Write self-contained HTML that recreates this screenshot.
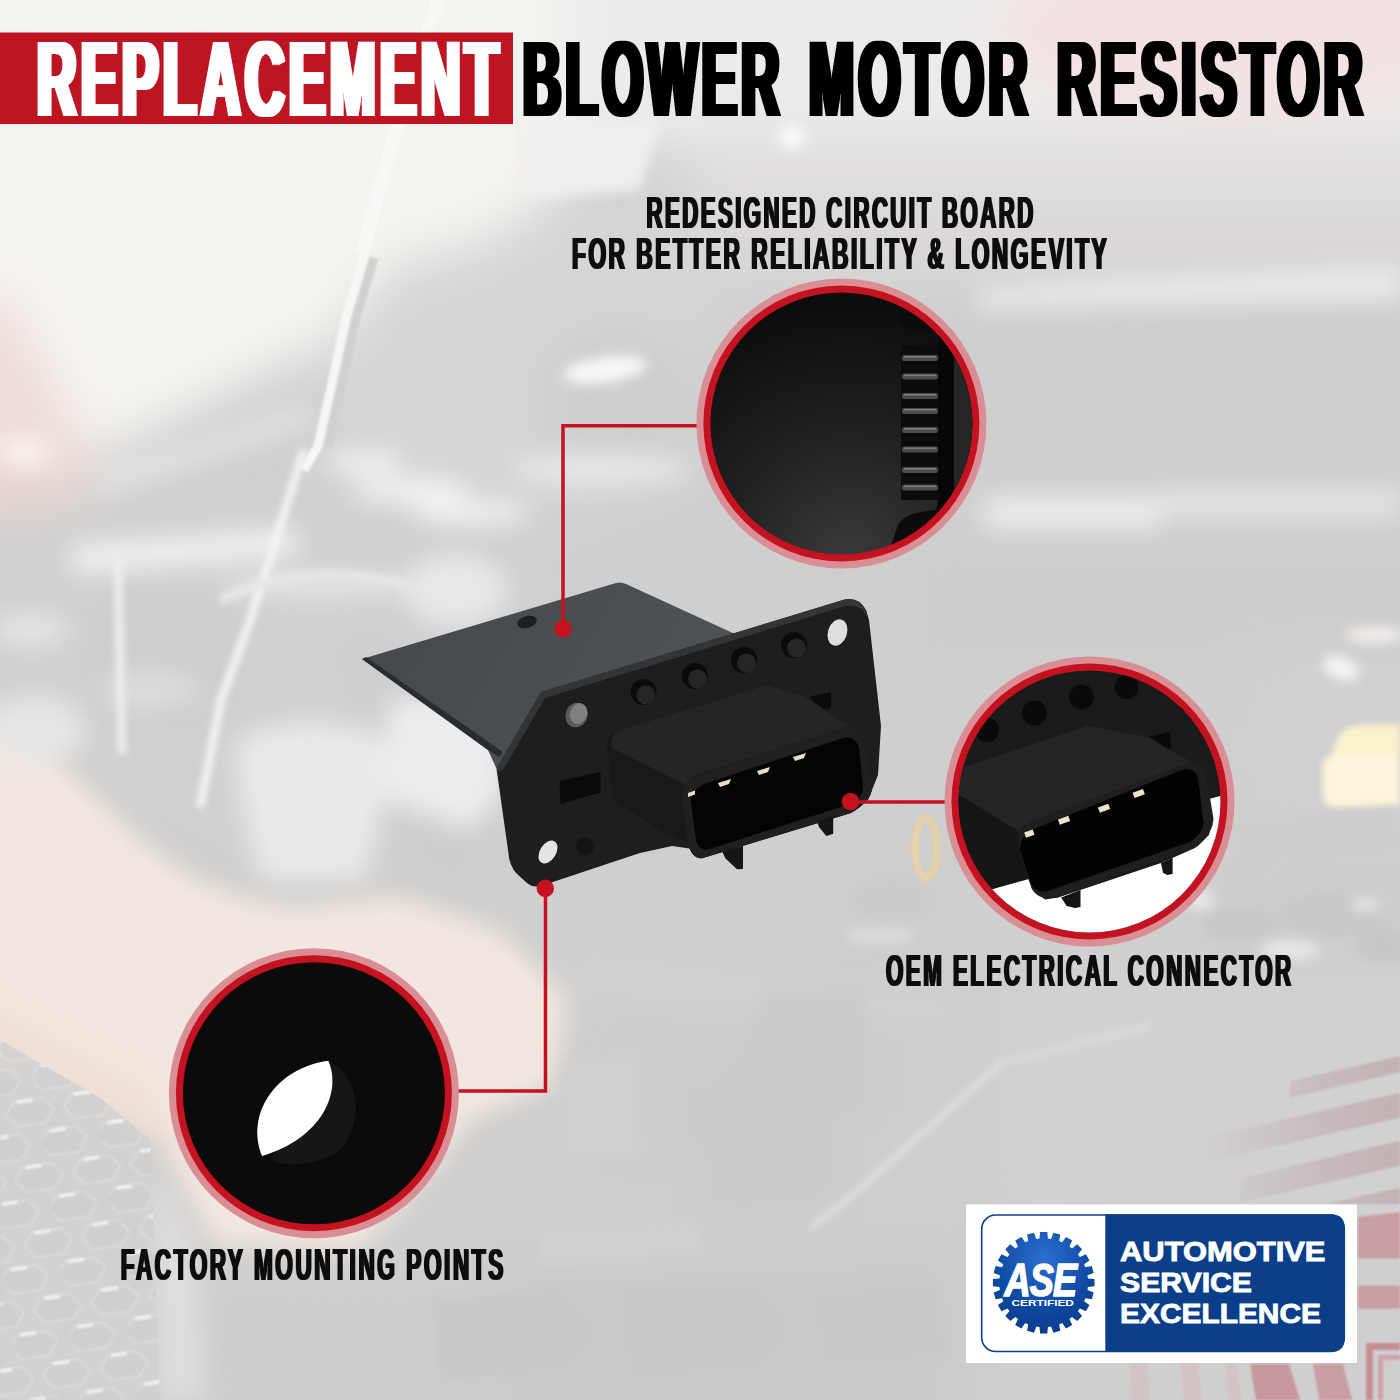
<!DOCTYPE html>
<html lang="en"><head><meta charset="utf-8"><title>Replacement Blower Motor Resistor</title>
<style>
html,body{margin:0;padding:0;background:#dcdcdc;}
body{width:1400px;height:1400px;overflow:hidden;font-family:"Liberation Sans",sans-serif;}
svg text{font-family:"Liberation Sans",sans-serif;font-weight:bold;}
</style></head><body>
<svg width="1400" height="1400" viewBox="0 0 1400 1400" style="display:block">
<defs>
  <filter id="b60" x="-50%" y="-50%" width="200%" height="200%"><feGaussianBlur stdDeviation="60"/></filter>
  <filter id="b40" x="-50%" y="-50%" width="200%" height="200%"><feGaussianBlur stdDeviation="40"/></filter>
  <filter id="b25" x="-50%" y="-50%" width="200%" height="200%"><feGaussianBlur stdDeviation="25"/></filter>
  <filter id="b12" x="-50%" y="-50%" width="200%" height="200%"><feGaussianBlur stdDeviation="12"/></filter>
  <filter id="b6" x="-50%" y="-50%" width="200%" height="200%"><feGaussianBlur stdDeviation="6"/></filter>
  <filter id="b3" x="-50%" y="-50%" width="200%" height="200%"><feGaussianBlur stdDeviation="3"/></filter>
  <filter id="b1" x="-50%" y="-50%" width="200%" height="200%"><feGaussianBlur stdDeviation="1.2"/></filter>
  <clipPath id="c1"><circle cx="841.4" cy="423.5" r="131"/></clipPath>
  <clipPath id="c2"><circle cx="1089.5" cy="801.5" r="131"/></clipPath>
  <clipPath id="c3"><circle cx="313.9" cy="1093.2" r="131"/></clipPath>
  <linearGradient id="g1" x1="0" y1="0" x2="0.6" y2="1">
    <stop offset="0" stop-color="#0c0c0c"/><stop offset="0.55" stop-color="#1d1d1d"/><stop offset="1" stop-color="#3a3a3a"/>
  </linearGradient>
  <linearGradient id="plate" x1="0" y1="0" x2="1" y2="0.3">
    <stop offset="0" stop-color="#45474a"/><stop offset="1" stop-color="#505356"/>
  </linearGradient>
  <radialGradient id="gear" cx="0.5" cy="0.25" r="0.8">
    <stop offset="0" stop-color="#2a6fd0"/><stop offset="0.6" stop-color="#0f4aa3"/><stop offset="1" stop-color="#0a3a86"/>
  </radialGradient>
  <filter id="fatT" x="-2%" y="-20%" width="104%" height="140%"><feMorphology operator="dilate" radius="3.3 0"/></filter>
  <filter id="fatS" x="-2%" y="-20%" width="104%" height="140%"><feMorphology operator="dilate" radius="1.3 0"/></filter>
  <radialGradient id="g1r" gradientUnits="userSpaceOnUse" cx="850" cy="560" r="270">
    <stop offset="0" stop-color="#3a3a3a"/><stop offset="0.45" stop-color="#222222"/><stop offset="1" stop-color="#0b0b0b"/>
  </radialGradient>
  <pattern id="hex" width="58" height="66" patternUnits="userSpaceOnUse" patternTransform="rotate(-8)">
    <rect width="58" height="66" fill="#d2d2d2"/>
    <path d="M6,4 L34,4 L44,16 L34,29 L6,29 L-4,16 Z" fill="#cfcfcf" stroke="#dcdcdc" stroke-width="2"/>
    <path d="M35,37 L63,37 L73,49 L63,62 L35,62 L25,49 Z" fill="#cfcfcf" stroke="#dcdcdc" stroke-width="2"/>
    <path d="M-23,37 L5,37 L15,49 L5,62 L-23,62 L-33,49 Z" fill="#cfcfcf" stroke="#dcdcdc" stroke-width="2"/>
    <rect x="8" y="3" width="16" height="3.5" fill="#f8f8f8"/>
    <rect x="37" y="36" width="16" height="3.5" fill="#f8f8f8"/>
  </pattern>
  <clipPath id="grilleclip"><path d="M0,1040 L100,1098 L150,1140 L160,1400 L0,1400 Z"/></clipPath>
  <linearGradient id="stripefade" gradientUnits="userSpaceOnUse" x1="1200" y1="0" x2="1400" y2="0">
    <stop offset="0" stop-color="#c4b6b8" stop-opacity="0"/><stop offset="0.6" stop-color="#c4b6b8" stop-opacity="0.8"/><stop offset="1" stop-color="#c2b2b5" stop-opacity="1"/>
  </linearGradient>
</defs>

<g id="bg">
  <rect width="1400" height="1400" fill="#cfcfcf"/>
  <!-- ===== broad tonal regions ===== -->
  <g filter="url(#b25)">
    <!-- hood (light) -->
    <path d="M-80,-80 L620,-80 L600,150 L525,218 L462,250 L400,262 L325,347 L87,462 L-80,520 Z" fill="#f4f3f0"/>
    <rect x="560" y="-80" width="920" height="230" fill="#ecebea"/>
    <ellipse cx="1230" cy="30" rx="230" ry="80" fill="#f3e1e1"/>
    <!-- under-hood grey -->
    <path d="M325,350 L400,265 L462,252 L525,222 L600,200 L700,168 L730,190 L700,470 L560,520 L320,480 Z" fill="#d6d5d5"/>
    <ellipse cx="620" cy="400" rx="80" ry="70" fill="#cfcdcd"/>
    <!-- right wall bands -->
    <rect x="700" y="130" width="780" height="80" fill="#e2e0df"/><rect x="700" y="200" width="780" height="85" fill="#dad8d7"/>
    <rect x="960" y="310" width="520" height="160" fill="#cfcece"/>
    <rect x="900" y="540" width="580" height="130" fill="#cdcdcd"/>
    <!-- mid left engine bay -->
    <path d="M-80,520 L92,462 L320,470 L560,500 L560,700 L480,900 L300,890 L-80,700 Z" fill="#d0d0d0"/>
    
    <path d="M90,590 L230,590 L230,720 L90,720 Z" fill="#cecece"/>
    <path d="M330,640 L380,640 L480,760 L500,900 L400,890 L380,720 Z" fill="#cdcdcd"/>
    <!-- grille -->
    <path d="M-80,1060 L100,1110 L150,1170 L150,1480 L-80,1480 Z" fill="#cccccc"/>
    <path d="M200,1270 L420,1280 L520,1480 L200,1480 Z" fill="#cdcdcd"/>
    <!-- bottom center -->
    <path d="M470,1140 L583,945 L900,960 L1010,1000 L1010,1200 L960,1480 L500,1480 L420,1290 Z" fill="#cecece"/>
    <path d="M760,985 L870,980 L872,1110 L832,1122 L832,1208 L705,1212 L700,1080 L735,1058 Z" fill="#cbcbcb"/>
    <path d="M500,1270 L960,1250 L960,1480 L500,1480 Z" fill="#cbcbcb"/>
    <path d="M600,1040 L700,1040 L700,1160 L600,1160 Z" fill="#cccccc"/>
    <!-- right lower -->
    <rect x="1000" y="980" width="480" height="240" fill="#d1d1d1"/>
    <rect x="1240" y="650" width="240" height="180" fill="#d0d0d0"/>
    <rect x="1200" y="830" width="280" height="130" fill="#cdcdcd"/>
    <rect x="840" y="830" width="115" height="130" fill="#cecece"/>
    <!-- left skin upper -->
    <path d="M-40,290 L9,298 L89,451 L85,500 L-40,512 Z" fill="#eddcd8"/>
    <ellipse cx="10" cy="480" rx="40" ry="24" fill="#e9d2cb"/>
  </g>
  <!-- ===== medium detail ===== -->
  <g filter="url(#b12)">
    <!-- arm -->
    <path d="M-40,690 L54,760 L107,807 L150,848 L200,882 L260,903 L300,908 L400,897 L500,932 L568,1000 L552,1085 L470,1120 L440,1160 L360,1250 L215,1245 L160,1140 L-40,1040 Z" fill="#f2e7e0"/>
    <path d="M-40,985 L150,1085 L185,1155 L120,1125 L-40,1045 Z" fill="#efe0d7"/>
    <!-- bumper light strip right of grille -->
    <path d="M150,1160 L195,1250 L205,1400 L160,1400 Z" fill="#dedede"/>
    <!-- right wall light bands -->
    <path d="M980,292 L1120,282 L1400,270 L1400,296 L1120,302 L980,308 Z" fill="#efefef"/>
    <rect x="985" y="498" width="175" height="30" fill="#ededed"/>
    <rect x="1160" y="490" width="240" height="26" fill="#e4e4e4"/>
    <!-- reservoir -->
    <path d="M236,740 Q310,705 388,740 L384,790 Q372,870 360,880 L262,880 Q250,850 240,790 Z" fill="#e9e9e9"/>
    <path d="M388,700 L500,690 L505,790 L470,830 L384,800 Z" fill="#ececec"/>
    <!-- white highlights, engine bay -->
    <ellipse cx="364" cy="462" rx="40" ry="10" fill="#f4f4f4"/>
    <ellipse cx="410" cy="490" rx="60" ry="13" fill="#f2f2f2"/>
    <ellipse cx="470" cy="512" rx="60" ry="14" fill="#eeeeee"/>
    <ellipse cx="600" cy="470" rx="90" ry="14" fill="#e9e9e9"/>
    <path d="M71,545 L296,528 L298,556 L73,574 Z" fill="#f0f0f0"/>
    <ellipse cx="316" cy="586" rx="95" ry="10" fill="#e8e8e8"/>
    <ellipse cx="455" cy="590" rx="52" ry="36" fill="#e8e8e8"/>
    <ellipse cx="30" cy="630" rx="40" ry="16" fill="#e4e4e4"/>
    <ellipse cx="35" cy="730" rx="50" ry="34" fill="#e6e6e6"/>
    <ellipse cx="24" cy="452" rx="26" ry="16" fill="#faf3ee"/>
    <ellipse cx="150" cy="690" rx="50" ry="16" fill="#dedede"/>
    <!-- fender light band -->
    <path d="M92,474 L304,404 L312,424 L100,496 Z" fill="#e2e2e2"/>
    <!-- engine cover ridge -->
    <path d="M583,945 L879,983 L975,1003 L960,1030 L700,1010 L560,1000 Z" fill="#d0d0d0"/>
    <!-- yellow cap -->
    </g>
  <!-- ===== finer detail ===== -->
  <g filter="url(#b3)">
    <path d="M1336,742 Q1342,726 1362,725 L1400,725 L1400,760 L1330,760 Z" fill="#faf2cd"/>
    <path d="M1323,764 Q1324,756 1336,756 L1400,754 L1400,806 L1340,808 Q1324,808 1323,796 Z" fill="#fcf5dc"/>
    <!-- engine cover thin ridge -->
    <path d="M1000,1064 L846,1201 L811,1227" fill="none" stroke="#e2e2e2" stroke-width="5"/>
    <path d="M1000,1064 L1150,1026" fill="none" stroke="#dcdcdc" stroke-width="5"/>
    <!-- rod lower part + tubes -->
    <path d="M304,450 L250,621 L221,700 L200,807" fill="none" stroke="#f4f4f4" stroke-width="8" stroke-linejoin="round"/>
    <path d="M118,557 L122,754" stroke="#ececec" stroke-width="9" fill="none"/>
    <path d="M221,600 Q300,560 411,585" stroke="#e6e6e6" stroke-width="10" fill="none"/>
  </g>
  <g filter="url(#b1)">
    <!-- hood prop rod -->
    <path d="M440,-5 L390,150 L362,255" fill="none" stroke="#f8f8f8" stroke-width="13" stroke-linejoin="round"/>
    <path d="M364,255 L346,318 L334,374 L318,446 L304,470" fill="none" stroke="#f6f6f6" stroke-width="9" stroke-linejoin="round"/>
    <path d="M374,258 L356,318 L344,374 L328,446" fill="none" stroke="#d0d0d0" stroke-width="9"/>
    <!-- orange o-ring -->
    <ellipse cx="926" cy="848" rx="11" ry="30" fill="none" stroke="#e6d2a8" stroke-width="7"/>
  </g>
  <g filter="url(#b1)">
    <!-- flag stripes (crisp) -->
    <g fill="url(#stripefade)">
      <path d="M1290,1081 L1400,1056 L1400,1072 L1290,1098 Z"/>
      <path d="M1194,1140 L1400,1092.6 L1400,1117.7 L1194,1165 Z"/>
      <path d="M1240,1178 L1400,1140.6 L1400,1165.7 L1240,1203 Z"/>
      <path d="M1330,1203 L1400,1187.4 L1400,1204 L1330,1204 Z"/>
    </g>
    <g fill="#c89da3">
      <path d="M1358,1217 L1400,1212 L1400,1258.5 L1358,1258.5 Z"/>
      <rect x="1358" y="1285.7" width="42" height="23"/>
      <path d="M1250,1364 L1289,1364 L1300,1400 L1256,1400 Z" fill="#c6979d"/>
      <path d="M1313,1364 L1343,1364 L1352,1400 L1319,1400 Z"/>
      <path d="M1366,1343 L1400,1343 L1400,1350 L1373,1350 L1373,1400 L1366,1400 Z" fill="#c68d93"/>
      <path d="M1378,1355 L1400,1355 L1400,1360 L1383,1360 L1383,1400 L1378,1400 Z" fill="#cfa3a8"/>
    </g>
    <g fill="#d2c3c5">
      <path d="M1130,1364 L1147,1364 L1150,1400 L1132,1400 Z"/>
      <path d="M1181,1364 L1198,1364 L1202,1400 L1184,1400 Z"/>
      <path d="M1226,1364 L1237,1364 L1241,1400 L1229,1400 Z"/>
    </g>
  </g>
  <g filter="url(#b6)">
      <ellipse cx="605" cy="370" rx="42" ry="13" fill="#f6f6f6" transform="rotate(-8 605 370)"/>
      <ellipse cx="1341" cy="668" rx="19" ry="11" fill="#f4f4f4" transform="rotate(20 1341 668)"/>
      <ellipse cx="1375" cy="635" rx="30" ry="9" fill="#eeebe8"/>
      <ellipse cx="792" cy="137" rx="13" ry="12" fill="#f8f8f8"/>
      <path d="M520,120 L660,120 L640,190 L520,200 Z" fill="#f0eeed"/>
    </g>
  <g id="bgmid">
    <g clip-path="url(#grilleclip)" filter="url(#b1)" opacity="0.85">
      <rect x="0" y="1030" width="170" height="370" fill="url(#hex)"/>
    </g>
    <g filter="url(#b6)">
      <!-- hose under cap -->
      <path d="M1236,818 L1400,808 L1400,852 L1236,862 Z" fill="#cdcdcd"/>
      <!-- dark details lower right -->
      <ellipse cx="1240" cy="925" rx="38" ry="18" fill="#c8c8c8"/>
      <ellipse cx="1330" cy="915" rx="50" ry="22" fill="#c8c8c8"/>
      <ellipse cx="1385" cy="945" rx="30" ry="18" fill="#c7c7c7"/>
      <ellipse cx="1290" cy="950" rx="30" ry="10" fill="#e6e6e6"/>
      <ellipse cx="1200" cy="900" rx="14" ry="10" fill="#e8e8e8"/>
      <ellipse cx="1365" cy="905" rx="14" ry="6" fill="#e6e6e6"/>
      <!-- lower bottom dark shapes -->
      <path d="M430,1300 L560,1290 L600,1330 L560,1370 L440,1380 Z" fill="#c8c8c8"/>
      <path d="M620,1290 L760,1285 L790,1330 L760,1370 L630,1375 Z" fill="#c8c8c8"/>
      <path d="M810,1290 L940,1280 L950,1360 L820,1370 Z" fill="#c9c9c9"/>
      <path d="M540,1235 L700,1225 L700,1250 L540,1262 Z" fill="#d1d1d1"/>
      <!-- recess in engine cover -->
      <path d="M765,992 L866,988 L868,1105 L828,1116 L828,1200 L710,1205 L706,1086 L740,1064 Z" fill="#cbcbcb"/>
      <path d="M563,1060 L640,1056 L642,1155 L566,1160 Z" fill="#d0d0d0"/>
      <!-- left-of-circle2 dark part -->
      <ellipse cx="890" cy="900" rx="40" ry="22" fill="#cbcbcb"/>
      <ellipse cx="880" cy="935" rx="34" ry="8" fill="#dcdcdc"/>
    </g>
  </g>
</g>

<g id="product">
  <!-- back plate (circuit board) -->
  <path d="M362,659 L616,583 Q621,581.5 626,584 L735,634 L735,700 L545,700 L498,772 L488,750 Z" fill="url(#plate)"/>
  <path d="M362,659 L488,750 L499,757 L503,752 L366,657 Z" fill="#2a2c2f"/>
  <ellipse cx="527" cy="622" rx="10" ry="6" fill="#1d1f21" transform="rotate(-15 527 622)"/>
  <!-- flange -->
  <path d="M541,692 L843,600 Q858,596 866,610 L869,620 L881,726 L878,775 L868,800 L700,850 L672,846 L640,853 L541,886 Q533,888 527,883 L517,874 Q509,866 508,850 L497,772 Q496,768 499,764 Z" fill="#1e1e1f"/>
  <!-- flange top edge highlight -->
  <path d="M541,692 L843,600 Q858,596 866,610 L868,618 Q860,603 845,606 L545,698 L503,770 L497,772 Q496,768 499,764 Z" fill="#353536"/>
  <!-- holes -->
  <ellipse cx="576.5" cy="715" rx="11" ry="12.5" fill="#5a5a5a" transform="rotate(20 576.5 715)"/>
  <ellipse cx="578" cy="713" rx="8.5" ry="10.5" fill="#808080" transform="rotate(20 576.5 715)"/>
  <ellipse cx="548" cy="852" rx="8" ry="12.5" fill="#e4e4e4" transform="rotate(32 548 852)"/>
  <ellipse cx="837.5" cy="632.5" rx="9.5" ry="13.5" fill="#dedede" transform="rotate(18 837.5 632.5)"/>
  <g fill="#0b0b0b">
    <circle cx="643.5" cy="692" r="13"/>
    <circle cx="695" cy="676" r="13"/>
    <circle cx="744" cy="660" r="13"/>
    <circle cx="794" cy="645" r="13"/>
    <path d="M559.5,781 L600.5,772 L600.5,792.5 L560.5,804 Z"/>
    <path d="M810,696.5 L831,692 L831,708 L819,711 Z"/>
    <circle cx="585" cy="846" r="9" fill="#141414"/>
  </g>
  <g fill="#262627">
    <circle cx="646" cy="695" r="9.5"/>
    <circle cx="697.5" cy="679" r="9.5"/>
    <circle cx="746.5" cy="663" r="9.5"/>
    <circle cx="796.5" cy="648" r="9.5"/>
  </g>
  <!-- connector body -->
  <path d="M607,745 Q606,735 618,731 L767,685 L806,697 L849,726 Q864,731 866,742 L872,786 Q873,800 851,813 L703,858 Q692,860 688,843 L660,830 L613,800 Z" fill="#19191a"/>
  <!-- top surface -->
  <path d="M618,731 L767,685 L806,697 L849,726 L700,774 Q690,777 686,785 L612,748 Q610,736 618,731 Z" fill="#252526"/>
  <!-- front ring -->
  <path d="M700.5,774.5 L849,726 Q864,731 866,742 L872,786 Q873,800 851,813 L703,858 Q692,860 688,843 L682,800 Q681,781 700.5,774.5 Z" fill="#202021"/>
  <!-- cavity -->
  <path d="M707,783 L843,738 Q856,735 859,748 L863,786 Q864,798 850,804 L710,849 Q698,852 696,840 L691,803 Q690,789 707,783 Z" fill="#040404"/>
  <!-- pins -->
  <g fill="#e9e0c2">
    <path d="M688,793 l7,-2.5 l0,4 l-7,2.5 z"/>
    <path d="M718,783 l13,-4 l-2,5 l-9,3 z"/>
    <path d="M757,771 l13,-4 l-2,5 l-9,3 z"/>
    <path d="M793,757 l13,-4 l-2,5 l-9,3 z"/>
  </g>
  <!-- tabs -->
  <path d="M722,851 L743,846 L743,869 L737,869.3 L725.5,858.5 Z" fill="#161616"/>
  <path d="M817,821 L833.2,815.5 L833.2,833.7 L826.3,836 L819,827 Z" fill="#161616"/>
</g>

<g id="callouts">
  <!-- leader lines -->
  <g stroke="#c51220" stroke-width="3.5" fill="none">
    <path d="M563,629 L563,425.7 L704,425.7"/>
    <path d="M850.5,802 L952,802"/>
    <path d="M545.5,888 L545.5,1091 L455,1091"/>
  </g>
  <g fill="#c51220">
    <circle cx="563" cy="628.7" r="8.7"/>
    <circle cx="850.5" cy="801.5" r="8.7"/>
    <circle cx="545.3" cy="888.3" r="8.7"/>
  </g>
  <!-- circle 1 -->
  <circle cx="841.4" cy="423.5" r="145" fill="#d88e94"/>
  <circle cx="841.4" cy="423.5" r="138" fill="#c51220"/>
  <g clip-path="url(#c1)">
    <rect x="700" y="280" width="290" height="290" fill="url(#g1r)"/>
    <!-- right component strip -->
    <path d="M888,285 L900,318 Q902,328 912,329 L938,331 L938,345 L901,345 L901,500 L938,500 L936,510 Q905,512 898,525 L886,560 L1000,560 L1000,285 Z" fill="#0c0c0c"/>
    <rect x="938" y="300" width="16" height="230" fill="#070707"/>
    <path d="M954,300 L980,300 L980,540 L954,540 Z" fill="#262626"/>
    <g fill="#4c4c4c">
      <rect x="902" y="355" width="36" height="6" rx="2"/>
      <rect x="902" y="373.5" width="36" height="6" rx="2"/>
      <rect x="902" y="393" width="36" height="6" rx="2"/>
      <rect x="902" y="408" width="36" height="6" rx="2"/>
      <rect x="902" y="427" width="36" height="6" rx="2"/>
      <rect x="902" y="446.5" width="36" height="6" rx="2"/>
      <rect x="902" y="467" width="36" height="6" rx="2"/>
      <rect x="902" y="484.5" width="36" height="6" rx="2"/>
    </g>
    <g fill="#7a7a7a">
      <rect x="904" y="356" width="32" height="1.6"/>
      <rect x="904" y="374.5" width="32" height="1.6"/>
      <rect x="904" y="394" width="32" height="1.6"/>
      <rect x="904" y="409" width="32" height="1.6"/>
      <rect x="904" y="428" width="32" height="1.6"/>
      <rect x="904" y="447.5" width="32" height="1.6"/>
      <rect x="904" y="468" width="32" height="1.6"/>
      <rect x="904" y="485.5" width="32" height="1.6"/>
    </g>
  </g>
  <!-- circle 2 -->
  <circle cx="1089.5" cy="801.5" r="145" fill="#d88e94"/>
  <circle cx="1089.5" cy="801.5" r="138" fill="#c51220"/>
  <g clip-path="url(#c2)"><g transform="translate(-2,1)">
    <rect x="940" y="650" width="320" height="320" fill="#1b1b1c"/>
    <!-- white area -->
    <path d="M950,905 L991,889 L1030,877 L1034,888 L1047,898.5 L1060,896.5 L1163,862 L1197,847 L1211,834 L1214,817 L1211,798 L1240,790 L1240,950 L950,950 Z" fill="#ffffff"/>
    <!-- flange holes -->
    <g fill="#0a0a0a">
      <circle cx="989" cy="729" r="12"/>
      <circle cx="1036.5" cy="712" r="12.5"/>
      <circle cx="1083.5" cy="696" r="12.5"/>
      <circle cx="1128.5" cy="686" r="12"/>
      <path d="M1151,735.7 L1172.5,730.4 L1172.5,750.7 L1163,744 Z"/>
    </g>
    <!-- top surface of connector -->
    <path d="M955,770 L1090,725 L1150,736 L1193,761 L1030,822 Q1022,826 1020,834 L955,800 Z" fill="#252526"/>
    <!-- body side -->
    <path d="M955,790 L1020,830 L1031,878 L991,889 L955,900 Z" fill="#161617"/>
    <!-- ring -->
    <path d="M1033,820 L1192.8,761.4 Q1206,763 1208,772 L1215.5,818 Q1215,832 1200,845 L1060,896.5 Q1040,900 1034,888 L1022,850 Q1016,828 1033,820 Z" fill="#1f1f20"/>
    <!-- cavity -->
    <path d="M1040.7,826 L1185,768.5 Q1198,766 1200.3,778.6 L1205.5,822 Q1205,832 1192,841 L1050,890 Q1036,893 1032,880 L1022.5,850 Q1020,834 1040.7,826 Z" fill="#030303"/>
    <g fill="#ece4c8">
      <rect x="1027" y="830" width="9" height="5.5" transform="rotate(-20 1031 833)"/>
      <rect x="1060.5" y="816.5" width="11" height="5.5" transform="rotate(-20 1066 819)"/>
      <rect x="1100.5" y="804.5" width="11" height="5.5" transform="rotate(-20 1106 807)"/>
      <rect x="1135" y="790" width="11" height="5.5" transform="rotate(-20 1140 792)"/>
    </g>
    <!-- tabs -->
    <path d="M1063.2,896.4 L1068.6,905 L1077,907 L1082.5,906 L1082.5,889 Z" fill="#151515"/>
    <path d="M1162.9,862.1 L1165,871.8 L1169.3,874 L1174.6,872.9 L1174.6,856.8 Z" fill="#151515"/>
  </g></g>
  <!-- circle 3 -->
  <circle cx="313.9" cy="1093.2" r="145" fill="#d88e94"/>
  <circle cx="313.9" cy="1093.2" r="138" fill="#c51220"/>
  <g clip-path="url(#c3)">
    <rect x="170" y="950" width="290" height="290" fill="#0b0b0b"/>
    <path d="M328,1061 C360,1075 365,1120 340,1150 C320,1165 290,1168 270,1160 Z" fill="#161616"/>
    <path d="M262,1156 C245,1115 275,1068 328.3,1060.7 C342,1092 322,1138 262,1156 Z" fill="#ffffff"/>
  </g>
</g>

<g id="texts">
  <rect x="0" y="32.5" width="513" height="91.5" fill="#bd1622"/>
  <g filter="url(#fatT)" font-size="106.8" letter-spacing="9" fill="#050505">
    <text transform="translate(37,115.5) scale(0.5110,1)" fill="#ffffff">REPLACEMENT</text>
    <text transform="translate(523,115.5) scale(0.4936,1)">BLOWER</text>
    <text transform="translate(809,115.5) scale(0.5064,1)">MOTOR</text>
    <text transform="translate(1057,115.5) scale(0.5036,1)">RESISTOR</text>
  </g>
  <g filter="url(#fatS)" fill="#0a0a0a" letter-spacing="5">
    <text transform="translate(646.5,228.4) scale(0.4926,1)" font-size="45">REDESIGNED CIRCUIT BOARD</text>
    <text transform="translate(572,269.4) scale(0.5051,1)" font-size="45">FOR BETTER RELIABILITY &amp; LONGEVITY</text>
    <text transform="translate(885.9,985.7) scale(0.5036,1)" font-size="44.3">OEM ELECTRICAL CONNECTOR</text>
    <text transform="translate(120.8,1279.6) scale(0.5176,1)" font-size="43.6">FACTORY MOUNTING POINTS</text>
  </g>
</g>

<g id="badge">
  <rect x="966" y="1204.5" width="391" height="158.5" fill="#ffffff"/>
  <rect x="981.7" y="1215" width="362.6" height="136.5" rx="14" ry="14" fill="#ffffff" stroke="#0b3f8a" stroke-width="1.6"/>
  <path d="M1105.3,1214.3 L1330.8,1214.3 Q1344.8,1214.3 1344.8,1228.3 L1344.8,1338 Q1344.8,1352 1330.8,1352 L1105.3,1352 Z" fill="#0b3f8a"/>
  <g id="gear"><path d="M1037.9,1238.7 L1039.5,1238.5 L1040.1,1231.9 L1047.3,1231.9 L1047.9,1238.5 L1049.5,1238.7 L1049.5,1238.7 L1051.1,1238.9 L1053.4,1232.7 L1060.3,1234.6 L1059.2,1241.1 L1060.7,1241.7 L1060.7,1241.7 L1062.2,1242.3 L1066.0,1236.9 L1072.2,1240.5 L1069.4,1246.5 L1070.7,1247.5 L1070.7,1247.5 L1072.0,1248.5 L1077.1,1244.3 L1082.1,1249.3 L1077.9,1254.4 L1078.9,1255.7 L1078.9,1255.7 L1079.9,1257.0 L1085.9,1254.2 L1089.5,1260.4 L1084.1,1264.2 L1084.7,1265.7 L1084.7,1265.7 L1085.3,1267.2 L1091.8,1266.1 L1093.7,1273.0 L1087.5,1275.3 L1087.7,1276.9 L1087.7,1276.9 L1087.9,1278.5 L1094.5,1279.1 L1094.5,1286.3 L1087.9,1286.9 L1087.7,1288.5 L1087.7,1288.5 L1087.5,1290.1 L1093.7,1292.4 L1091.8,1299.3 L1085.3,1298.2 L1084.7,1299.7 L1084.7,1299.7 L1084.1,1301.2 L1089.5,1305.0 L1085.9,1311.2 L1079.9,1308.4 L1078.9,1309.7 L1078.9,1309.7 L1077.9,1311.0 L1082.1,1316.1 L1077.1,1321.1 L1072.0,1316.9 L1070.7,1317.9 L1070.7,1317.9 L1069.4,1318.9 L1072.2,1324.9 L1066.0,1328.5 L1062.2,1323.1 L1060.7,1323.7 L1060.7,1323.7 L1059.2,1324.3 L1060.3,1330.8 L1053.4,1332.7 L1051.1,1326.5 L1049.5,1326.7 L1049.5,1326.7 L1047.9,1326.9 L1047.3,1333.5 L1040.1,1333.5 L1039.5,1326.9 L1037.9,1326.7 L1037.9,1326.7 L1036.3,1326.5 L1034.0,1332.7 L1027.1,1330.8 L1028.2,1324.3 L1026.7,1323.7 L1026.7,1323.7 L1025.2,1323.1 L1021.4,1328.5 L1015.2,1324.9 L1018.0,1318.9 L1016.7,1317.9 L1016.7,1317.9 L1015.4,1316.9 L1010.3,1321.1 L1005.3,1316.1 L1009.5,1311.0 L1008.5,1309.7 L1008.5,1309.7 L1007.5,1308.4 L1001.5,1311.2 L997.9,1305.0 L1003.3,1301.2 L1002.7,1299.7 L1002.7,1299.7 L1002.1,1298.2 L995.6,1299.3 L993.7,1292.4 L999.9,1290.1 L999.7,1288.5 L999.7,1288.5 L999.5,1286.9 L992.9,1286.3 L992.9,1279.1 L999.5,1278.5 L999.7,1276.9 L999.7,1276.9 L999.9,1275.3 L993.7,1273.0 L995.6,1266.1 L1002.1,1267.2 L1002.7,1265.7 L1002.7,1265.7 L1003.3,1264.2 L997.9,1260.4 L1001.5,1254.2 L1007.5,1257.0 L1008.5,1255.7 L1008.5,1255.7 L1009.5,1254.4 L1005.3,1249.3 L1010.3,1244.3 L1015.4,1248.5 L1016.7,1247.5 L1016.7,1247.5 L1018.0,1246.5 L1015.2,1240.5 L1021.4,1236.9 L1025.2,1242.3 L1026.7,1241.7 L1026.7,1241.7 L1028.2,1241.1 L1027.1,1234.6 L1034.0,1232.7 L1036.3,1238.9 L1037.9,1238.7 Z" fill="url(#gear)"/>
  <text transform="translate(1004.5,1295.9) scale(0.79,1)" font-size="45.7" font-style="italic" fill="#ffffff" stroke="#ffffff" stroke-width="1.6" letter-spacing="-1">ASE</text>
  <text transform="translate(1011.5,1306.2) scale(1.30,1)" font-size="9.1" fill="#ffffff">CERTIFIED</text></g>
  <g fill="#ffffff" font-size="27.6" stroke="#ffffff" stroke-width="0.9">
    <text x="1120" y="1261" textLength="205.5" lengthAdjust="spacingAndGlyphs">AUTOMOTIVE</text>
    <text x="1120" y="1292.4" textLength="132" lengthAdjust="spacingAndGlyphs">SERVICE</text>
    <text x="1120" y="1323" textLength="201" lengthAdjust="spacingAndGlyphs">EXCELLENCE</text>
  </g>
</g>

</svg>
</body></html>
